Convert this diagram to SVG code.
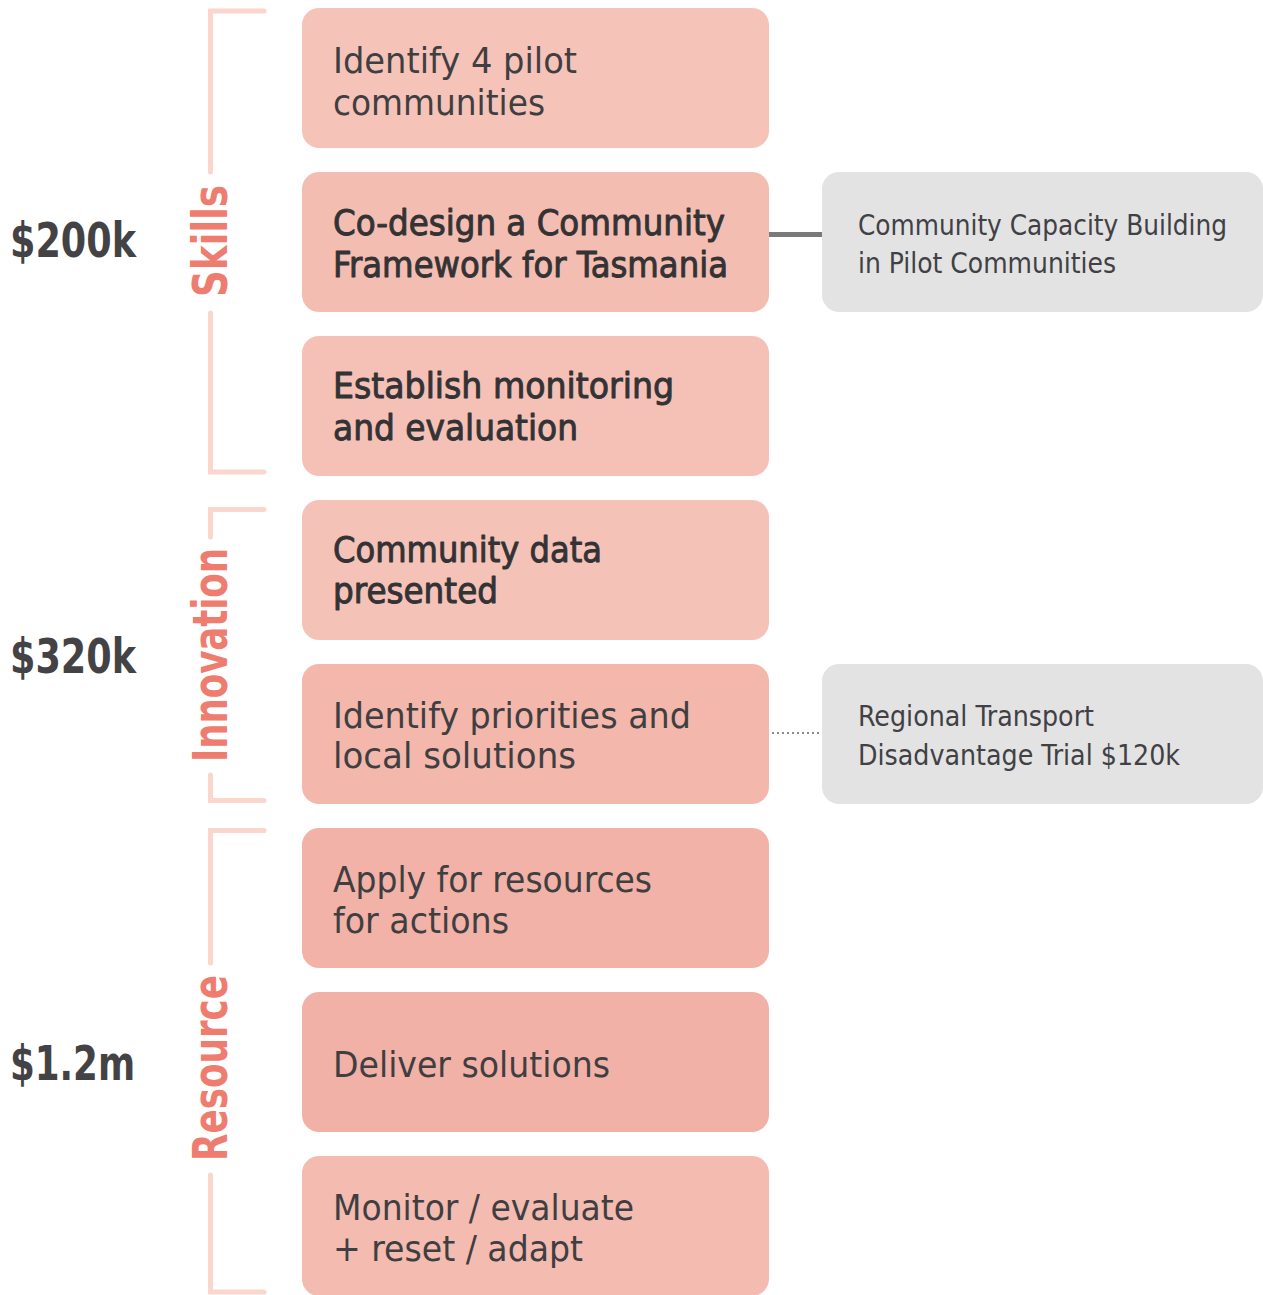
<svg xmlns="http://www.w3.org/2000/svg" width="1263" height="1295" viewBox="0 0 1263 1295">
  <style>
    .bg { fill: #ffffff; }
    .bracket { fill: none; stroke: #fad6cd; stroke-width: 5; stroke-linecap: round; stroke-linejoin: miter; }
    .phase { font-family: "DejaVu Sans Condensed", "DejaVu Sans", sans-serif; font-weight: bold; font-size: 48px; fill: #ee7c6f; text-anchor: middle; }
    .budget { font-family: "DejaVu Sans Condensed", "DejaVu Sans", sans-serif; font-weight: bold; font-size: 48px; fill: #434346; }
    .step rect { stroke: none; }
    .step text { font-family: "DejaVu Sans Condensed", "DejaVu Sans", sans-serif; font-size: 36px; fill: #3f3f42; }
    .step.strong text { fill: #333335; stroke: #333335; stroke-width: 0.9px; stroke-linejoin: round; }
    .side rect { fill: #e3e3e4; }
    .side text { font-family: "DejaVu Sans Condensed", "DejaVu Sans", sans-serif; font-size: 28px; fill: #414144; }
    .link-solid { stroke: #7a7a7c; stroke-width: 5; fill: none; }
    .link-dotted { stroke: #8a8a8c; stroke-width: 2; stroke-dasharray: 2 3; fill: none; }
  </style>

  <rect class="bg" x="0" y="0" width="1263" height="1295"/>

  <!-- phase brackets -->
  <g id="bracket-skills">
    <path class="bracket" d="M264 11 H210.5 V172 M210.5 313 V472 H264"/>
    <text class="phase" transform="translate(227 241) rotate(-90)" textLength="112" lengthAdjust="spacingAndGlyphs">Skills</text>
  </g>
  <g id="bracket-innovation">
    <path class="bracket" d="M264 509.5 H210.5 V537 M210.5 775 V800.5 H264"/>
    <text class="phase" transform="translate(227 655) rotate(-90)" textLength="214" lengthAdjust="spacingAndGlyphs">Innovation</text>
  </g>
  <g id="bracket-resource">
    <path class="bracket" d="M264 830.5 H210.5 V963 M210.5 1175 V1292 H264"/>
    <text class="phase" transform="translate(227 1068) rotate(-90)" textLength="186" lengthAdjust="spacingAndGlyphs">Resource</text>
  </g>

  <!-- budget figures -->
  <g id="budget-200k"><text class="budget" x="10" y="257" textLength="126" lengthAdjust="spacingAndGlyphs">$200k</text></g>
  <g id="budget-320k"><text class="budget" x="10" y="673" textLength="126" lengthAdjust="spacingAndGlyphs">$320k</text></g>
  <g id="budget-1-2m"><text class="budget" x="10" y="1080" textLength="125" lengthAdjust="spacingAndGlyphs">$1.2m</text></g>

  <!-- connectors -->
  <g id="connectors">
    <line class="link-solid" x1="769" y1="234.5" x2="822" y2="234.5"/>
    <line class="link-dotted" x1="772" y1="733" x2="822" y2="733"/>
  </g>

  <!-- process steps -->
  <g id="step-identify-communities" class="step">
    <rect x="302" y="8" width="467" height="140" rx="17" fill="#f6c3b9"/>
    <text x="333" y="73" textLength="244" lengthAdjust="spacingAndGlyphs">Identify 4 pilot</text>
    <text x="333" y="115" textLength="212" lengthAdjust="spacingAndGlyphs">communities</text>
  </g>
  <g id="step-codesign" class="step strong">
    <rect x="302" y="172" width="467" height="140" rx="17" fill="#f4bdb2"/>
    <text x="333" y="235" textLength="392" lengthAdjust="spacingAndGlyphs">Co-design a Community</text>
    <text x="333" y="277" textLength="395" lengthAdjust="spacingAndGlyphs">Framework for Tasmania</text>
  </g>
  <g id="step-monitoring" class="step strong">
    <rect x="302" y="336" width="467" height="140" rx="17" fill="#f5c1b7"/>
    <text x="333" y="398" textLength="341" lengthAdjust="spacingAndGlyphs">Establish monitoring</text>
    <text x="333" y="440" textLength="245" lengthAdjust="spacingAndGlyphs">and evaluation</text>
  </g>
  <g id="step-data" class="step strong">
    <rect x="302" y="500" width="467" height="140" rx="17" fill="#f5c2b8"/>
    <text x="333" y="562" textLength="269" lengthAdjust="spacingAndGlyphs">Community data</text>
    <text x="333" y="603" textLength="165" lengthAdjust="spacingAndGlyphs">presented</text>
  </g>
  <g id="step-priorities" class="step">
    <rect x="302" y="664" width="467" height="140" rx="17" fill="#f3b7ac"/>
    <text x="333" y="728" textLength="358" lengthAdjust="spacingAndGlyphs">Identify priorities and</text>
    <text x="333" y="768" textLength="243" lengthAdjust="spacingAndGlyphs">local solutions</text>
  </g>
  <g id="step-apply" class="step">
    <rect x="302" y="828" width="467" height="140" rx="17" fill="#f2b2a7"/>
    <text x="333" y="892" textLength="319" lengthAdjust="spacingAndGlyphs">Apply for resources</text>
    <text x="333" y="933" textLength="176" lengthAdjust="spacingAndGlyphs">for actions</text>
  </g>
  <g id="step-deliver" class="step">
    <rect x="302" y="992" width="467" height="140" rx="17" fill="#f2b1a6"/>
    <text x="333" y="1077" textLength="277" lengthAdjust="spacingAndGlyphs">Deliver solutions</text>
  </g>
  <g id="step-review" class="step">
    <rect x="302" y="1156" width="467" height="140" rx="17" fill="#f4bbb0"/>
    <text x="333" y="1220" textLength="301" lengthAdjust="spacingAndGlyphs">Monitor / evaluate</text>
    <text x="333" y="1261" textLength="250" lengthAdjust="spacingAndGlyphs">+ reset / adapt</text>
  </g>

  <!-- linked programmes -->
  <g id="side-capacity" class="side">
    <rect x="822" y="172" width="441" height="140" rx="17"/>
    <text x="858" y="235" textLength="369" lengthAdjust="spacingAndGlyphs">Community Capacity Building</text>
    <text x="858" y="273" textLength="258" lengthAdjust="spacingAndGlyphs">in Pilot Communities</text>
  </g>
  <g id="side-transport" class="side">
    <rect x="822" y="664" width="441" height="140" rx="17"/>
    <text x="858" y="726" textLength="236" lengthAdjust="spacingAndGlyphs">Regional Transport</text>
    <text x="858" y="765" textLength="322" lengthAdjust="spacingAndGlyphs">Disadvantage Trial $120k</text>
  </g>
</svg>
